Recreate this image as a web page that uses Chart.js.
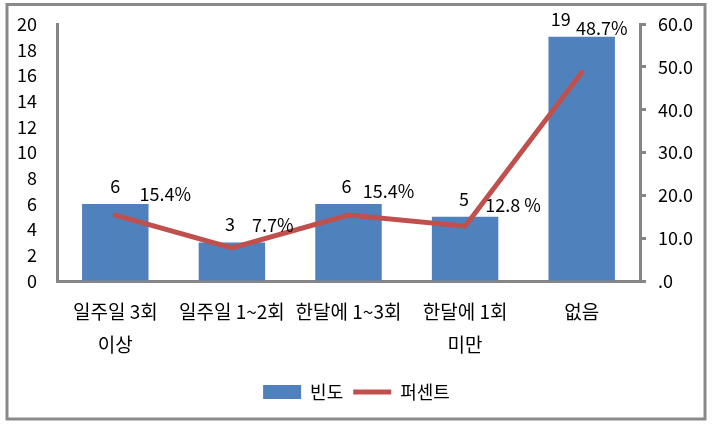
<!DOCTYPE html>
<html>
<head>
<meta charset="utf-8">
<script src="https://cdn.jsdelivr.net/npm/chart.js@4"></script>
<style>
html,body{margin:0;padding:0;background:#fff;}
#c{display:block;}
</style>
</head>
<body>
<canvas id="c" width="713" height="426"></canvas>
<script>
// ---- data ----
const categories = [['일주일 3회', '이상'], '일주일 1~2회', '한달에 1~3회', ['한달에 1회', '미만'], '없음'];
const counts = [6, 3, 6, 5, 19];
const percents = [15.4, 7.7, 15.4, 12.8, 48.7];
const percentLabels = ['15.4%', '7.7%', '15.4%', '12.8 %', '48.7%'];
const leftTicks = [0, 2, 4, 6, 8, 10, 12, 14, 16, 18, 20];
const rightTicks = ['.0', '10.0', '20.0', '30.0', '40.0', '50.0', '60.0'];
const seriesNames = ['빈도', '퍼센트'];

// ---- style ----
const FONT = '"Noto Sans CJK KR", "Noto Sans", sans-serif';
const BLUE = '#4F81BD';
const RED = '#C0504D';
const AXIS = '#868686';
const pctDx = [50, 41, 40, 48, 20];
const pctDy = [-21, -23, -24, -21, -44];
const cntDx = [0, -2, -2, -1, -21];
const cntDy = -18;

const frame = {
  id: 'frame',
  beforeDraw(chart) {
    const ctx = chart.ctx;
    ctx.save();
    ctx.fillStyle = '#fff';
    ctx.fillRect(0, 0, chart.width, chart.height);
    ctx.strokeStyle = '#8a8a8a';
    ctx.lineWidth = 3;
    ctx.strokeRect(7, 4.5, 698, 414.5);
    ctx.restore();
  }
};

const valueLabels = {
  id: 'valueLabels',
  afterDatasetsDraw(chart) {
    const ctx = chart.ctx;
    ctx.save();
    ctx.font = '18px ' + FONT;
    ctx.fillStyle = '#000';
    ctx.textAlign = 'center';
    ctx.textBaseline = 'middle';
    const barMeta = chart.getDatasetMeta(0);
    const lineMeta = chart.getDatasetMeta(1);
    barMeta.data.forEach((el, i) => {
      ctx.fillText(String(counts[i]), el.x + cntDx[i], el.y + cntDy);
    });
    lineMeta.data.forEach((el, i) => {
      ctx.fillText(percentLabels[i], el.x + pctDx[i], el.y + pctDy[i]);
    });
    ctx.restore();
  }
};

new Chart(document.getElementById('c'), {
  data: {
    labels: categories,
    datasets: [
      {
        type: 'bar',
        label: seriesNames[0],
        data: counts,
        backgroundColor: BLUE,
        borderWidth: 0,
        categoryPercentage: 1,
        barPercentage: 0.57,
        yAxisID: 'y',
        order: 2
      },
      {
        type: 'line',
        label: seriesNames[1],
        data: percents,
        borderColor: RED,
        backgroundColor: RED,
        borderWidth: 5,
        borderCapStyle: 'round',
        pointRadius: 0,
        tension: 0,
        fill: false,
        yAxisID: 'y1',
        order: 1
      }
    ]
  },
  options: {
    responsive: false,
    animation: false,
    layout: { padding: { top: 24, left: 0, right: 0, bottom: 15 } },
    plugins: {
      tooltip: { enabled: false },
      legend: {
        position: 'bottom',
        labels: {
          font: { family: FONT, size: 18 },
          color: '#000',
          usePointStyle: true,
          pointStyleWidth: 38,
          boxHeight: 14,
          padding: 10,
          generateLabels() {
            return [
              { text: seriesNames[0], fillStyle: BLUE, strokeStyle: BLUE, lineWidth: 0, pointStyle: 'rect', datasetIndex: 0, fontColor: '#000' },
              { text: seriesNames[1], fillStyle: RED, strokeStyle: RED, lineWidth: 5, pointStyle: 'line', datasetIndex: 1, fontColor: '#000' }
            ];
          }
        }
      }
    },
    scales: {
      x: {
        grid: { display: false, drawTicks: false },
        border: { display: true, color: AXIS, width: 3 },
        ticks: {
          font: { family: FONT, size: 19, lineHeight: 1.74 },
          color: '#000',
          padding: 14,
          autoSkip: false,
          maxRotation: 0,
          minRotation: 0
        },
        afterFit(s) { s.height = 92; }
      },
      y: {
        position: 'left',
        min: 0,
        max: 20,
        afterBuildTicks(s) { s.ticks = leftTicks.map(v => ({ value: v })); },
        grid: { drawOnChartArea: false, drawTicks: true, tickLength: 18, tickColor: 'rgba(0,0,0,0)' },
        border: { display: true, color: AXIS, width: 3 },
        ticks: {
          font: { family: FONT, size: 18 },
          color: '#000',
          padding: 2
        },
        afterFit(s) { s.width = 57; }
      },
      y1: {
        position: 'right',
        min: 0,
        max: 60,
        afterBuildTicks(s) { s.ticks = rightTicks.map((t, i) => ({ value: i * 10 })); },
        grid: { drawOnChartArea: false, drawTicks: true, tickLength: 6, color: AXIS, lineWidth: 3 },
        border: { display: true, color: AXIS, width: 3 },
        ticks: {
          font: { family: FONT, size: 18 },
          color: '#000',
          padding: 12,
          callback: (v, i) => rightTicks[i]
        },
        afterFit(s) { s.width = 73; }
      }
    }
  },
  plugins: [frame, valueLabels]
});
</script>
</body>
</html>
